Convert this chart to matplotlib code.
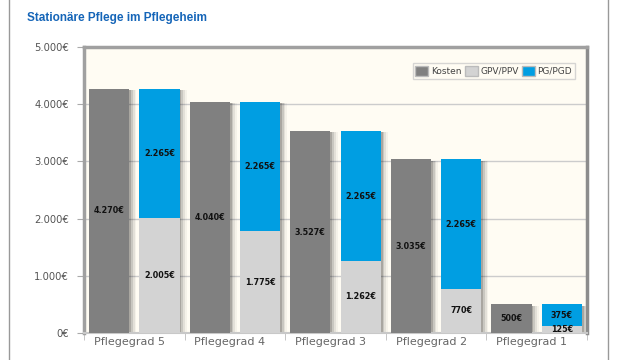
import numpy as np
import matplotlib.pyplot as plt
import matplotlib.transforms as mtransforms
from matplotlib.lines import Line2D
from matplotlib.patches import Patch

# data
categories = ["Pflegegrad 5", "Pflegegrad 4", "Pflegegrad 3", "Pflegegrad 2", "Pflegegrad 1"]
kosten = [4270, 4040, 3527, 3035, 500]
gpv_ppv = [2005, 1775, 1262, 770, 125]
pg_pgd = [2265, 2265, 2265, 2265, 375]
y_ticks = [0, 1000, 2000, 3000, 4000, 5000]

c_kosten = "#808080"
c_gpv = "#d3d3d3"
c_pg = "#009ee2"


def euro(v):
    return "{:,}€".format(v).replace(",", ".")


fig = plt.figure(figsize=(6.21, 3.6), dpi=100)
fig.patch.set_facecolor("white")
ax = fig.add_axes([84 / 621, 1 - 333 / 360, 503 / 621, 286 / 360])
ax.set_facecolor("#fffcf3")

x_k = np.arange(len(categories)) * 2
x_s = x_k + 1
w = 0.8

# shadows to the right of each bar (soft gradient)
for xs, hs in ((x_k, kosten), (x_s, np.add(gpv_ppv, pg_pgd))):
    for i, a in enumerate([0.16, 0.11, 0.07, 0.04]):
        ax.bar(xs + 0.035 * (i + 1), np.array(hs) - 20, w, bottom=0,
               color="black", alpha=a, zorder=2, linewidth=0)

ax.bar(x_k, kosten, w, color=c_kosten, zorder=3, linewidth=0)
ax.bar(x_s, gpv_ppv, w, color=c_gpv, zorder=3, linewidth=0)
ax.bar(x_s, pg_pgd, w, bottom=gpv_ppv, color=c_pg, zorder=3, linewidth=0)

lab_kw = dict(ha="center", va="center", fontsize=5.8, fontweight="bold",
              color="#111111", zorder=5)
for xk, xs, k, g, p in zip(x_k, x_s, kosten, gpv_ppv, pg_pgd):
    ax.text(xk, k / 2, euro(k), **lab_kw)
    ax.text(xs, g / 2, euro(g), **lab_kw)
    ax.text(xs, g + p / 2, euro(p), **lab_kw)

ax.set_xlim(-0.5, 9.5)
ax.set_ylim(0, 5000)
ax.set_yticks(y_ticks)
ax.set_yticklabels([euro(v) for v in y_ticks], fontsize=7.2, color="#555555")
ax.set_xticks(x_k + 0.5)
ax.set_xticklabels(categories, fontsize=8, color="#666666")
ax.set_xticks(np.arange(-0.5, 10, 2), minor=True)
ax.tick_params(axis="x", which="major", length=0, pad=3)
ax.tick_params(axis="x", which="minor", length=5, color="#bbbbbb")
ax.tick_params(axis="y", length=5, color="#aaaaaa", pad=6)

# category labels sit slightly left of the group centre
shift = mtransforms.ScaledTranslation(-5 / 100, 0, fig.dpi_scale_trans)
for lab in ax.get_xticklabels():
    lab.set_transform(lab.get_transform() + shift)

ax.grid(axis="y", color="#cccccc", linewidth=1, zorder=0)
ax.set_axisbelow(True)
for s in ax.spines.values():
    s.set_color("#a0a0a0")
    s.set_linewidth(2.5)
ax.spines["right"].set_color("#8c8c8c")
ax.spines["bottom"].set_color("#c8c8c8")
ax.spines["bottom"].set_linewidth(1.5)

handles = [Patch(facecolor=c_kosten, edgecolor="#bbbbbb", label="Kosten"),
           Patch(facecolor=c_gpv, edgecolor="#bbbbbb", label="GPV/PPV"),
           Patch(facecolor=c_pg, edgecolor="#bbbbbb", label="PG/PGD")]
leg = ax.legend(handles=handles, loc="upper right", ncol=3, fontsize=6.5,
                frameon=True, fancybox=False, handlelength=1.4, handleheight=1.4,
                handletextpad=0.3, columnspacing=0.4, borderpad=0.3,
                bbox_to_anchor=(0.985, 0.96), labelcolor="#444444")
leg.get_frame().set_edgecolor("#cccccc")
leg.get_frame().set_facecolor("#fffcf3")
leg.get_frame().set_linewidth(1)

fig.text(27 / 621, 1 - 18 / 360, "Stationäre Pflege im Pflegeheim",
         fontsize=8.5, fontweight="bold", color="#1565b8",
         family="Liberation Sans", va="center", ha="left")

# panel borders
fig.add_artist(Line2D([9 / 621, 9 / 621], [0, 1], color="#999999", linewidth=1))
fig.add_artist(Line2D([608 / 621, 608 / 621], [0, 1], color="#999999", linewidth=1))

fig.savefig("out.png", dpi=100)
